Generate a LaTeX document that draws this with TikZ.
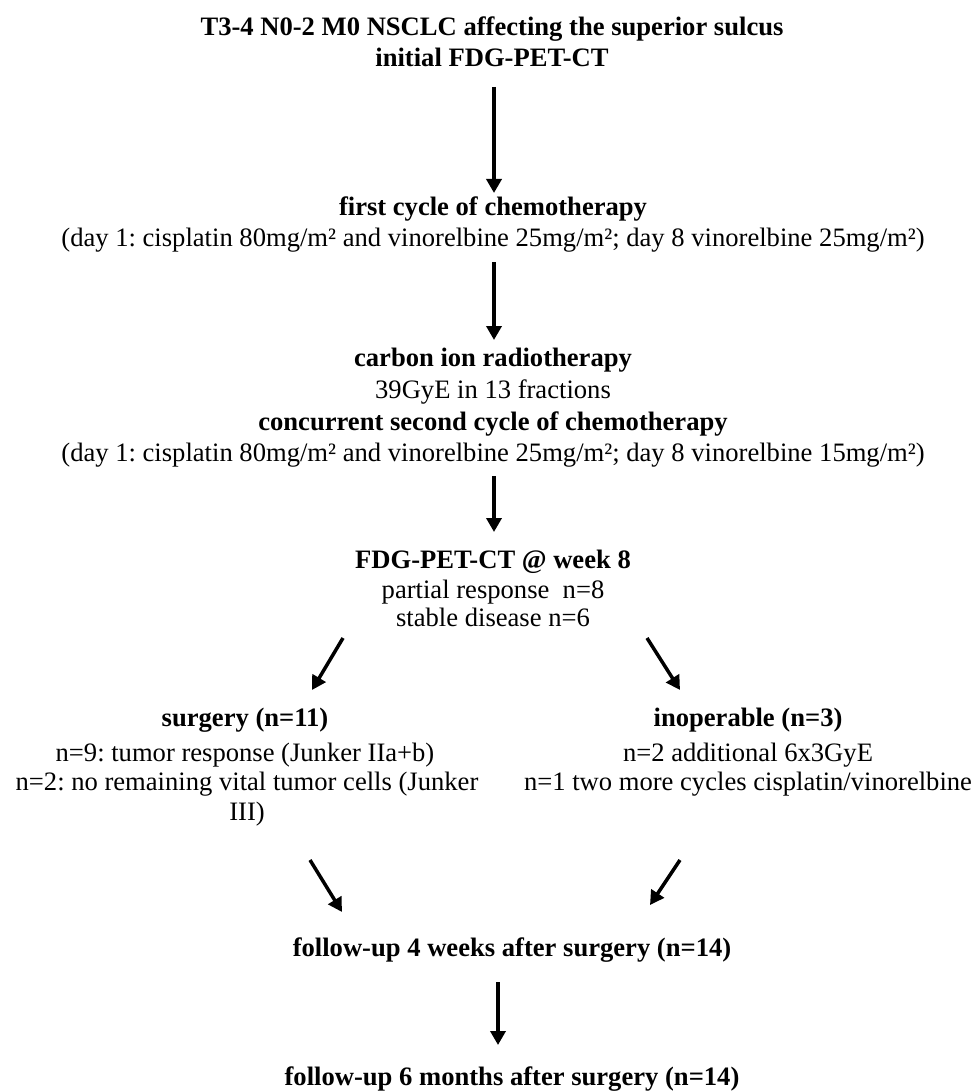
\documentclass[tikz,border=0pt]{standalone}
\usepackage{fontspec}
\setmainfont{Liberation Serif}
\usetikzlibrary{arrows.meta}
\frenchspacing
\begin{document}
\begin{tikzpicture}[x=1pt,y=-1pt,
  txt/.style={anchor=base,inner sep=0pt,font=\fontsize{26.6}{30}\selectfont},
  bf/.style={anchor=base,inner sep=0pt,font=\fontsize{26.6}{30}\selectfont\bfseries},
  arr/.style={line width=3.5pt,-{Triangle[width=15pt,length=14pt]}}]
\useasboundingbox (0,0) rectangle (974,1091);
% main column
\node[bf]  (t1) at (492,36)  {T3-4 N0-2 M0 NSCLC affecting the superior sulcus};
\node[bf]  (t2) at (492,67)  {initial FDG-PET-CT};
\node[bf]  (c1) at (493,216) {first cycle of chemotherapy};
\node[txt] (c1d) at (493,247) {(day 1: cisplatin 80mg/m² and vinorelbine 25mg/m²; day 8 vinorelbine 25mg/m²)};
\node[bf]  (r1) at (493,366) {carbon ion radiotherapy};
\node[txt] (r1d) at (493,398) {39GyE in 13 fractions};
\node[bf]  (c2) at (493,430) {concurrent second cycle of chemotherapy};
\node[txt] (c2d) at (493,461) {(day 1: cisplatin 80mg/m² and vinorelbine 25mg/m²; day 8 vinorelbine 15mg/m²)};
\node[bf]  (p1) at (493,568) {FDG-PET-CT @ week 8};
\node[txt] (p1a) at (493,598) {partial response\ \ n=8};
\node[txt] (p1b) at (493,626) {stable disease n=6};
% branches
\node[bf]  (s)  at (245,726) {surgery (n=11)};
\node[txt] (s1) at (245,761) {n=9: tumor response (Junker IIa+b)};
\node[txt] (s2) at (247,790) {n=2: no remaining vital tumor cells (Junker};
\node[txt] (s3) at (247,820) {III)};
\node[bf]  (i)  at (748,726) {inoperable (n=3)};
\node[txt] (i1) at (748,761) {n=2 additional 6x3GyE};
\node[txt] (i2) at (748,790) {n=1 two more cycles cisplatin/vinorelbine};
% follow-up
\node[bf]  (f1) at (512,956) {follow-up 4 weeks after surgery (n=14)};
\node[bf]  (f2) at (512,1085) {follow-up 6 months after surgery (n=14)};
% arrow end points
\coordinate (a1s) at (494,87);  \coordinate (a1e) at (494,193);
\coordinate (a2s) at (494,262); \coordinate (a2e) at (494,340);
\coordinate (a3s) at (494,476); \coordinate (a3e) at (494,532);
\coordinate (bls) at (343,638); \coordinate (ble) at (312,690);
\coordinate (brs) at (647,638); \coordinate (bre) at (680,690);
\coordinate (jls) at (310,860); \coordinate (jle) at (342,912);
\coordinate (jrs) at (680,860); \coordinate (jre) at (650,905);
\coordinate (a4s) at (498,982); \coordinate (a4e) at (498,1045);
\draw[arr] (a1s) -- (a1e);
\draw[arr] (a2s) -- (a2e);
\draw[arr] (a3s) -- (a3e);
\draw[arr] (bls) -- (ble);
\draw[arr] (brs) -- (bre);
\draw[arr] (jls) -- (jle);
\draw[arr] (jrs) -- (jre);
\draw[arr] (a4s) -- (a4e);
\end{tikzpicture}
\end{document}
